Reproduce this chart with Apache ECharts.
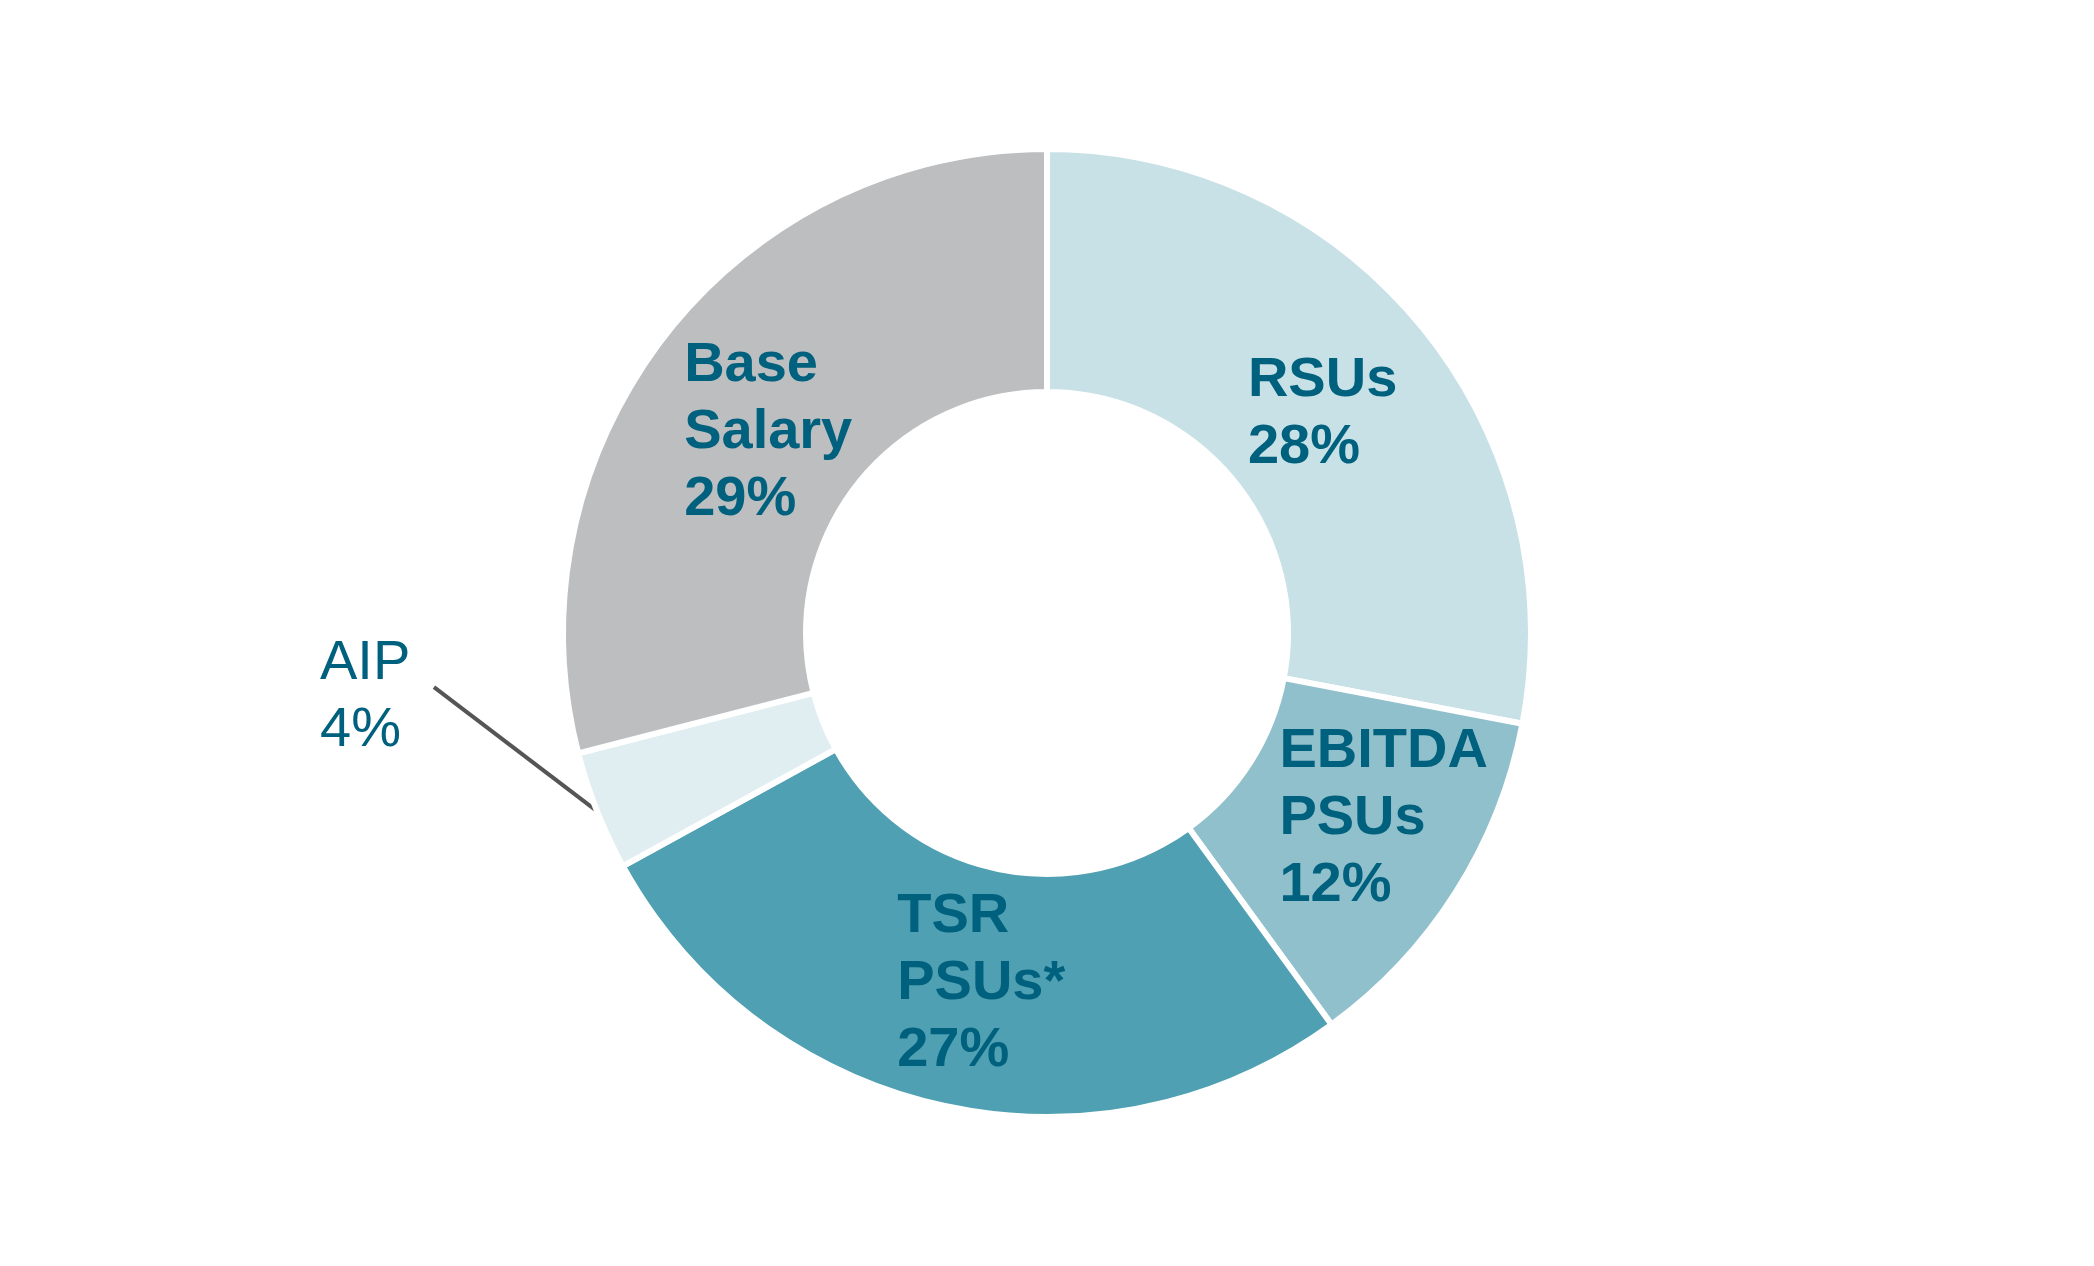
<!DOCTYPE html>
<html>
<head>
<meta charset="utf-8">
<title>Pay mix</title>
<script src="https://cdn.jsdelivr.net/npm/echarts@6/dist/echarts.min.js"></script>
<style>
  html, body { margin: 0; padding: 0; background: #fff; }
  #chart { width: 2094px; height: 1266px; }
</style>
</head>
<body>
<div id="chart"></div>
<script>
const categories = ['RSUs', 'EBITDA\nPSUs', 'TSR\nPSUs*', 'AIP', 'Base\nSalary'];
const shares = [28, 12, 27, 4, 29];
const sliceColors = ['#C8E1E6', '#90C0CC', '#4FA0B2', '#E0EEF1', '#BCBEC0'];
// small nudges from the default inside label spot, [dx, dy]
const labelNudge = [[-6, 14], [28, -10], [14, -6], [0, 0], [10, 24]];
const textColor = '#00617E';

let chart = echarts.init(document.getElementById('chart'));

let data = categories.map((name, i) => {
  let item = { name: name, value: shares[i], itemStyle: { color: sliceColors[i] } };
  if (name === 'AIP') {
    item.label = { position: 'outside', fontWeight: 'normal' };
    item.labelLine = { show: true, lineStyle: { color: '#555555', width: 4 } };
  }
  return item;
});

chart.setOption({
  animation: false,
  series: [
    {
      type: 'pie',
      center: ['50%', 633],
      radius: [241, 484],
      startAngle: 90,
      avoidLabelOverlap: false,
      emphasis: { disabled: true },
      itemStyle: { borderColor: '#ffffff', borderWidth: 6 },
      label: {
        show: true,
        position: 'inside',
        formatter: '{b}\n{c}%',
        fontFamily: 'Liberation Sans, Arial, sans-serif',
        fontSize: 56,
        lineHeight: 67,
        fontWeight: 'bold',
        color: textColor
      },
      labelLine: { show: false },
      labelLayout: function (p) {
        if (p.dataIndex === 3 && p.labelLinePoints) {
          let s = p.labelLinePoints[0];
          let e = [s[0] - 163, s[1] - 124];
          return {
            x: e[0] - 114, y: e[1] - 57,
            align: 'left', verticalAlign: 'top',
            labelLinePoints: [s, e]
          };
        }
        let n = labelNudge[p.dataIndex];
        return {
          x: p.labelRect.x + n[0], y: p.labelRect.y + n[1],
          align: 'left', verticalAlign: 'top'
        };
      },
      data: data
    }
  ]
});
</script>
</body>
</html>
